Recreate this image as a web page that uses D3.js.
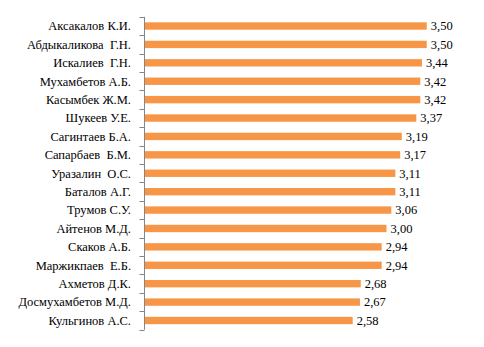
<!DOCTYPE html>
<html>
<head>
<meta charset="utf-8">
<script src="https://cdn.jsdelivr.net/npm/d3@7"></script>
<style>
  html, body { margin: 0; padding: 0; background: #fff; }
  svg { display: block; }
  svg text { font-family: "Liberation Serif", "Times New Roman", serif; font-size: 12.5px; fill: #000; white-space: pre; }
</style>
</head>
<body>
<svg id="chart" width="484" height="347"></svg>
<script>
// Ratings by teacher
const names = [
  "Аксакалов К.И.", "Абдыкаликова  Г.Н.", "Искалиев  Г.Н.", "Мухамбетов А.Б.",
  "Касымбек Ж.М.", "Шукеев У.Е.", "Сагинтаев Б.А.", "Сапарбаев  Б.М.",
  "Уразалин  О.С.", "Баталов А.Г.", "Трумов С.У.", "Айтенов М.Д.",
  "Скаков А.Б.", "Маржикпаев  Е.Б.", "Ахметов Д.К.", "Досмухамбетов М.Д.",
  "Кульгинов А.С."
];
const scores = [3.50, 3.50, 3.44, 3.42, 3.42, 3.37, 3.19, 3.17, 3.11, 3.11, 3.06, 3.00, 2.94, 2.94, 2.68, 2.67, 2.58];
const scoreLabels = ["3,50", "3,50", "3,44", "3,42", "3,42", "3,37", "3,19", "3,17", "3,11", "3,11", "3,06", "3,00", "2,94", "2,94", "2,68", "2,67", "2,58"];

const svg = d3.select("#chart");
const margin = { left: 145, top: 16.8, right: 17, bottom: 17.3 };
const W = 484, H = 347;

const x = d3.scaleLinear().domain([0, 4]).range([margin.left, W - margin.right]);
const y = d3.scaleBand().domain(names).range([margin.top, H - margin.bottom]).paddingInner(0.6).paddingOuter(0.3);

// bars
svg.append("g").selectAll("rect").data(names).join("rect")
  .attr("x", x(0))
  .attr("y", d => y(d))
  .attr("width", (d, i) => x(scores[i]) - x(0))
  .attr("height", y.bandwidth())
  .attr("fill", "#F79646");

// value labels
svg.append("g").selectAll("text").data(names).join("text")
  .attr("x", (d, i) => x(scores[i]) + 4)
  .attr("y", d => y(d) + y.bandwidth() / 2)
  .attr("dy", "0.35em")
  .text((d, i) => scoreLabels[i]);

// category axis with ticks at band boundaries
const step = y.step();
const axisG = svg.append("g").attr("transform", `translate(${x(0) - 0.5},0)`);
axisG.append("line")
  .attr("x1", 0).attr("x2", 0)
  .attr("y1", margin.top).attr("y2", H - margin.bottom)
  .attr("stroke", "#868686").attr("stroke-width", 1);
const edges = d3.range(names.length + 1).map(i => margin.top + i * step);
axisG.selectAll("line.tick").data(edges).join("line")
  .attr("class", "tick")
  .attr("x1", -5).attr("x2", 0)
  .attr("y1", d => Math.round(d) + 0.5).attr("y2", d => Math.round(d) + 0.5)
  .attr("stroke", "#868686");

svg.append("g").selectAll("text").data(names).join("text")
  .attr("x", x(0) - 14)
  .attr("y", d => y(d) + y.bandwidth() / 2)
  .attr("dy", "0.35em")
  .attr("text-anchor", "end")
  .text(d => d);
</script>
</body>
</html>
